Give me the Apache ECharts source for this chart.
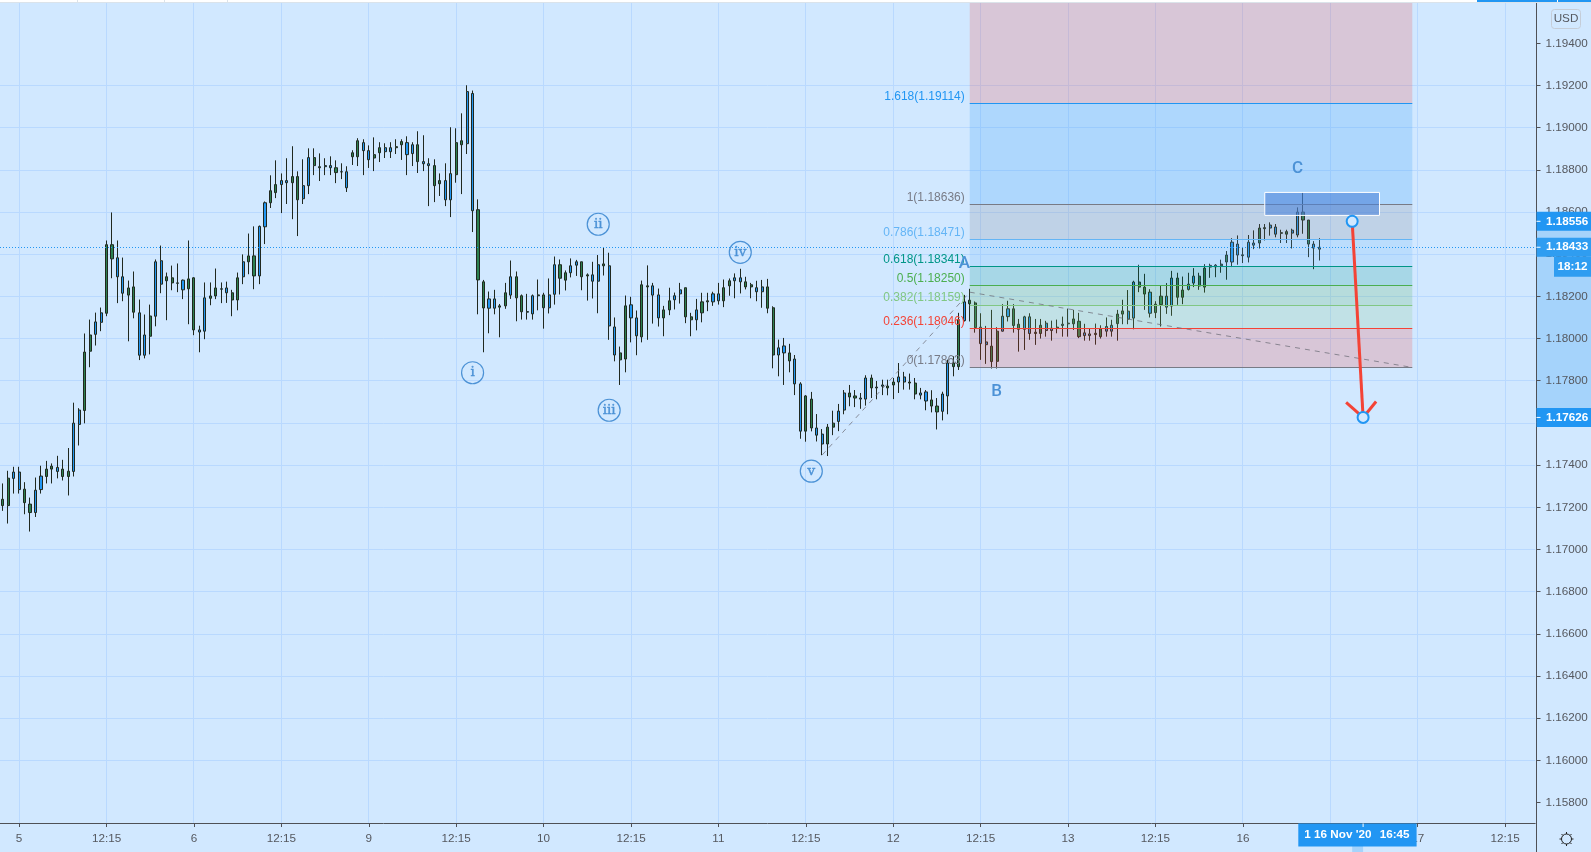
<!DOCTYPE html>
<html>
<head>
<meta charset="utf-8">
<style>html,body{margin:0;padding:0;background:#d1e8ff;overflow:hidden}#c{width:1591px;height:852px}</style>
<script src="https://cdn.jsdelivr.net/npm/echarts@6/dist/echarts.min.js"></script>
</head>
<body>
<div id="c"></div>
<script>
const tickLabels = ['5','12:15','6','12:15','9','12:15','10','12:15','11','12:15','12','12:15','13','12:15','16','12:15','17','12:15'];
const priceTicks = [1.158,1.16,1.162,1.164,1.166,1.168,1.17,1.172,1.174,1.176,1.178,1.18,1.182,1.184,1.186,1.188,1.19,1.192,1.194];

const opens = [
1.17238,1.17208,1.17337,1.17367,1.17286,1.17215,1.17175,1.17284,1.17346,1.17381,
1.17389,1.17381,1.17346,1.17370,1.17593,1.17659,1.17940,1.18020,1.18077,1.18120,
1.18445,1.18383,1.18293,1.18206,1.18245,1.18122,1.17921,1.18011,1.18106,1.18369,
1.18274,1.18288,1.18264,1.18277,1.18236,1.18288,1.18041,1.18035,1.18191,1.18202,
1.18234,1.18240,1.18217,1.18183,1.18293,1.18364,1.18392,1.18297,1.18530,1.18644,
1.18692,1.18730,1.18749,1.18739,1.18768,1.18663,1.18725,1.18858,1.18810,1.18815,
1.18820,1.18810,1.18791,1.18791,1.18881,1.18862,1.18929,1.18891,1.18856,1.18881,
1.18905,1.18886,1.18910,1.18919,1.18929,1.18877,1.18919,1.18839,1.18829,1.18820,
1.18734,1.18749,1.18658,1.18777,1.18938,1.18924,1.19162,1.18611,1.18269,1.18144,
1.18188,1.18149,1.18155,1.18206,1.18293,1.18203,1.18128,1.18117,1.18203,1.18207,
1.18146,1.18210,1.18350,1.18277,1.18312,1.18348,1.18364,1.18302,1.18302,1.18272,
1.18354,1.18345,1.18055,1.17932,1.17903,1.18160,1.18098,1.18008,1.18245,1.18250,
1.18207,1.18098,1.18136,1.18184,1.18212,1.18241,1.18103,1.18089,1.18122,1.18179,
1.18174,1.18212,1.18179,1.18250,1.18274,1.18288,1.18269,1.18255,1.18241,1.18222,
1.18245,1.18146,1.17922,1.17965,1.17932,1.17903,1.17785,1.17561,1.17713,1.17576,
1.17547,1.17500,1.17580,1.17607,1.17661,1.17742,1.17728,1.17718,1.17713,1.17813,
1.17766,1.17780,1.17766,1.17780,1.17794,1.17818,1.17794,1.17789,1.17732,1.17747,
1.17709,1.17680,1.17655,1.17728,1.17884,1.17867,1.18085,1.18182,1.18169,1.18054,
1.17984,1.17964,1.17892,1.18035,1.18104,1.18141,1.18068,1.18044,1.18103,1.18030,
1.18024,1.18073,1.18049,1.18054,1.18062,1.18070,1.18070,1.18082,1.18027,1.18022,
1.18025,1.18009,1.18057,1.18035,1.18071,1.18116,1.18130,1.18097,1.18268,1.18244,
1.18220,1.18123,1.18161,1.18201,1.18154,1.18287,1.18196,1.18233,1.18263,1.18296,
1.18244,1.18339,1.18340,1.18345,1.18396,1.18363,1.18448,1.18397,1.18386,1.18443,
1.18453,1.18526,1.18524,1.18529,1.18502,1.18495,1.18514,1.18491,1.18600,1.18562,
1.18448,1.18424];
const closes = [
1.17208,1.17338,1.17367,1.17284,1.17222,1.17175,1.17281,1.17348,1.17381,1.17395,
1.17370,1.17346,1.17371,1.17599,1.17661,1.17936,1.18017,1.18079,1.18122,1.18445,
1.18378,1.18293,1.18215,1.18240,1.18125,1.17921,1.18017,1.18107,1.18364,1.18258,
1.18293,1.18264,1.18262,1.18231,1.18283,1.18041,1.18031,1.18193,1.18202,1.18240,
1.18236,1.18217,1.18183,1.18288,1.18364,1.18392,1.18297,1.18532,1.18644,1.18701,
1.18730,1.18749,1.18739,1.18768,1.18658,1.18725,1.18858,1.18820,1.18815,1.18820,
1.18810,1.18787,1.18790,1.18715,1.18862,1.18938,1.18891,1.18848,1.18872,1.18905,
1.18886,1.18905,1.18905,1.18934,1.18872,1.18919,1.18839,1.18829,1.18820,1.18725,
1.18749,1.18658,1.18782,1.18929,1.18919,1.19171,1.18606,1.18278,1.18145,1.18188,
1.18144,1.18155,1.18217,1.18293,1.18193,1.18127,1.18125,1.18203,1.18207,1.18146,
1.18207,1.18350,1.18286,1.18312,1.18345,1.18364,1.18293,1.18297,1.18272,1.18350,
1.18345,1.18060,1.17922,1.17899,1.18155,1.18098,1.18013,1.18255,1.18250,1.18206,
1.18098,1.18136,1.18179,1.18203,1.18231,1.18103,1.18089,1.18136,1.18174,1.18174,
1.18212,1.18179,1.18241,1.18274,1.18288,1.18269,1.18245,1.18245,1.18222,1.18245,
1.18144,1.17922,1.17956,1.17932,1.17894,1.17785,1.17561,1.17728,1.17576,1.17542,
1.17500,1.17580,1.17599,1.17656,1.17742,1.17723,1.17718,1.17713,1.17813,1.17766,
1.17770,1.17774,1.17775,1.17794,1.17818,1.17794,1.17789,1.17737,1.17742,1.17704,
1.17680,1.17652,1.17737,1.17884,1.17867,1.18089,1.18174,1.18165,1.18052,1.17976,
1.17971,1.17891,1.18035,1.18106,1.18141,1.18062,1.18044,1.18103,1.18024,1.18024,
1.18063,1.18038,1.18038,1.18049,1.18068,1.18073,1.18093,1.18009,1.18014,1.18014,
1.18019,1.18047,1.18035,1.18063,1.18116,1.18131,1.18092,1.18268,1.18244,1.18211,
1.18120,1.18163,1.18201,1.18149,1.18287,1.18196,1.18230,1.18258,1.18296,1.18249,
1.18334,1.18347,1.18348,1.18353,1.18363,1.18457,1.18396,1.18393,1.18457,1.18453,
1.18524,1.18521,1.18538,1.18495,1.18499,1.18507,1.18500,1.18600,1.18562,1.18448,
1.18429,1.18433];
const lows = [
1.17183,1.17123,1.17265,1.17265,1.17167,1.17085,1.17154,1.17265,1.17313,1.17313,
1.17337,1.17327,1.17256,1.17346,1.17493,1.17598,1.17864,1.17967,1.18035,1.18106,
1.18286,1.18168,1.18177,1.17987,1.18096,1.17898,1.17906,1.17925,1.18058,1.18215,
1.18087,1.18229,1.18220,1.18187,1.18068,1.18016,1.17935,1.17997,1.18158,1.18187,
1.18168,1.18169,1.18106,1.18134,1.18258,1.18305,1.18234,1.18258,1.18448,1.18619,
1.18666,1.18595,1.18638,1.18566,1.18486,1.18638,1.18685,1.18775,1.18747,1.18775,
1.18775,1.18737,1.18756,1.18695,1.18823,1.18818,1.18775,1.18809,1.18794,1.18837,
1.18856,1.18856,1.18875,1.18847,1.18775,1.18818,1.18785,1.18794,1.18628,1.18647,
1.18676,1.18628,1.18576,1.18739,1.18685,1.18875,1.18505,1.18115,1.17935,1.18025,
1.18115,1.18006,1.18141,1.18188,1.18082,1.18090,1.18090,1.18090,1.18134,1.18047,
1.18119,1.18161,1.18209,1.18228,1.18290,1.18297,1.18229,1.18180,1.18190,1.18120,
1.18299,1.17994,1.17892,1.17780,1.17840,1.17982,1.17921,1.17982,1.17994,1.18071,
1.18057,1.18011,1.18111,1.18138,1.18166,1.18073,1.18011,1.18039,1.18077,1.18130,
1.18155,1.18161,1.18149,1.18203,1.18191,1.18214,1.18233,1.18191,1.18177,1.18146,
1.18120,1.17859,1.17821,1.17780,1.17840,1.17732,1.17525,1.17511,1.17560,1.17512,
1.17447,1.17443,1.17542,1.17561,1.17641,1.17679,1.17675,1.17667,1.17682,1.17718,
1.17712,1.17732,1.17731,1.17713,1.17742,1.17758,1.17758,1.17712,1.17712,1.17660,
1.17650,1.17569,1.17612,1.17641,1.17821,1.17851,1.18081,1.18081,1.18028,1.17899,
1.17880,1.17858,1.17858,1.18033,1.18081,1.18028,1.17938,1.17946,1.17994,1.17970,
1.18000,1.18009,1.17990,1.18025,1.18009,1.18009,1.18041,1.18002,1.17990,1.17990,
1.17971,1.18000,1.18009,1.18009,1.17990,1.18068,1.18068,1.18044,1.18220,1.18136,
1.18100,1.18097,1.18057,1.18117,1.18108,1.18160,1.18163,1.18228,1.18244,1.18231,
1.18218,1.18288,1.18291,1.18312,1.18279,1.18339,1.18350,1.18358,1.18361,1.18424,
1.18427,1.18465,1.18488,1.18480,1.18453,1.18453,1.18427,1.18480,1.18497,1.18386,
1.18329,1.18370];
const highs = [
1.17313,1.17373,1.17392,1.17392,1.17319,1.17246,1.17341,1.17397,1.17420,1.17408,
1.17444,1.17425,1.17481,1.17696,1.17670,1.18024,1.18090,1.18123,1.18147,1.18465,
1.18598,1.18465,1.18384,1.18275,1.18318,1.18185,1.18114,1.18161,1.18375,1.18441,
1.18313,1.18346,1.18356,1.18280,1.18465,1.18291,1.18061,1.18266,1.18266,1.18332,
1.18266,1.18270,1.18231,1.18313,1.18399,1.18498,1.18532,1.18536,1.18650,1.18774,
1.18845,1.18783,1.18855,1.18912,1.18793,1.18850,1.18902,1.18902,1.18878,1.18855,
1.18864,1.18845,1.18831,1.18817,1.18893,1.18950,1.18945,1.18916,1.18954,1.18931,
1.18926,1.18931,1.18945,1.18945,1.18959,1.18931,1.18983,1.18964,1.18855,1.18850,
1.18783,1.18831,1.19002,1.18997,1.19068,1.19201,1.19176,1.18660,1.18278,1.18223,
1.18231,1.18164,1.18264,1.18370,1.18318,1.18209,1.18212,1.18209,1.18280,1.18217,
1.18285,1.18389,1.18375,1.18323,1.18380,1.18373,1.18364,1.18309,1.18364,1.18396,
1.18434,1.18407,1.18100,1.17962,1.18204,1.18198,1.18133,1.18275,1.18347,1.18264,
1.18237,1.18155,1.18241,1.18218,1.18264,1.18241,1.18122,1.18188,1.18217,1.18217,
1.18222,1.18264,1.18280,1.18285,1.18309,1.18331,1.18293,1.18264,1.18274,1.18278,
1.18283,1.18153,1.17995,1.18003,1.17975,1.17922,1.17793,1.17732,1.17747,1.17642,
1.17571,1.17595,1.17658,1.17690,1.17756,1.17780,1.17756,1.17742,1.17826,1.17829,
1.17799,1.17805,1.17805,1.17813,1.17884,1.17842,1.17834,1.17813,1.17766,1.17756,
1.17755,1.17718,1.17748,1.17900,1.17916,1.18122,1.18207,1.18236,1.18176,1.18120,
1.18060,1.18136,1.18054,1.18163,1.18179,1.18163,1.18093,1.18108,1.18120,1.18093,
1.18093,1.18084,1.18085,1.18090,1.18104,1.18142,1.18136,1.18122,1.18070,1.18049,
1.18071,1.18063,1.18100,1.18089,1.18136,1.18184,1.18230,1.18274,1.18350,1.18307,
1.18234,1.18177,1.18250,1.18263,1.18321,1.18312,1.18294,1.18312,1.18334,1.18312,
1.18353,1.18355,1.18353,1.18374,1.18415,1.18476,1.18489,1.18434,1.18491,1.18513,
1.18543,1.18543,1.18551,1.18543,1.18516,1.18516,1.18521,1.18622,1.18693,1.18562,
1.18462,1.18476];

const fibRatios = ['1.618','1','0.786','0.618','0.5','0.382','0.236','0'];
const fibPrices = [1.19114,1.18636,1.18471,1.18341,1.18250,1.18159,1.18046,1.17863];
const fibColors = ['#2196f3','#787b86','#64b5f6','#009688','#4caf50','#81c784','#f44336','#787b86'];
const fibBars = [177,258];
const trendBars = [150,177,258];
const trendPrices = [1.17448,1.1822,1.17863];
const waveLabels = ['i','ii','iii','iv','v'];
const waveBars = [86,109,111,135,148];
const wavePrices = [1.17838,1.18542,1.1766,1.18409,1.17371];
const abcLabels = ['A','B','C'];
const abcBars = [176,181.9,237];
const abcPrices = [1.18355,1.1775,1.18806];
const boxBars = [231,252];
const boxPrices = [1.18693,1.18584];
const arrowBars = [247,249];
const arrowPrices = [1.18556,1.17626];
const lastPrice = 1.18433;
const countdown = '18:12';
const dateTag = "1 16 Nov '20";
const timeTag = '16:45';

const AXIS_MIN = 1.156, AXIS_MAX = 1.196;      // multiples of the 0.002 interval
const PANE_BOTTOM = 1.15703, PANE_TOP = 1.19591; // what the pane shows
const BG = '#d1e8ff', GRID = '#b9d9ff', AXIS = '#4f5156', TXT = '#55585f';
const FONT = '"Liberation Sans",Arial,sans-serif';
const BLUE = '#2196f3', WAVE = '#4c92d6';

const BAR_COUNT = 281;
const categories = new Array(BAR_COUNT).fill('');
tickLabels.forEach((t,k)=>{categories[3+16*k]=t;});
const tickBars = tickLabels.map((t,k)=>3+16*k);
const isTick = (i)=>categories[i]!=='';
const pitch = 5.47;
const upColor = (i)=> (Math.floor(1.8+pitch*i)%2) ? '#2c8050' : '#2196f3';
const WICK = '#20281f';
const candles = opens.map((o,i)=>({
  value:[o,closes[i],lows[i],highs[i]],
  itemStyle:{color:upColor(i),color0:'#f4764a',borderColor:WICK,borderColor0:WICK,borderWidth:1}
}));

const zoneColors = ['#f44336','#2196f3','#787b86','#64b5f6','#009688','#4caf50','#81c784','#f44336'];
const fibZones = fibPrices.map((p,i)=>[i===0?PANE_TOP:fibPrices[i-1],p]);

function hexA(h,a){const n=parseInt(h.slice(1),16);return `rgba(${n>>16},${(n>>8)&255},${n&255},${a})`;}

const chart = echarts.init(document.getElementById('c'),null,{renderer:'canvas',width:1591,height:852});
const rightEdge = 1591;
const Y_OFFSET = 1.3;
const grid = {left:-1.9,top:1.12,width:1537.1,height:843.6,containLabel:false};
const snap = (v)=>Math.floor(v)+.5;

const series = [
 {type:'custom',name:'axisStrips',z:-1,silent:true,data:[[arrowBars[0],arrowPrices[0]]],encode:{x:0,y:1},
  renderItem(p,api){
    const cs=p.coordSys, ax=cs.x+cs.width+Y_OFFSET;
    const y0=api.coord([0,arrowPrices[0]])[1], y1=api.coord([0,arrowPrices[1]])[1];
    const x0=api.coord([arrowBars[0],PANE_BOTTOM])[0], x1=api.coord([arrowBars[1],PANE_BOTTOM])[0];
    const base=api.coord([0,PANE_BOTTOM])[1];
    return {type:'group',children:[
      {type:'rect',shape:{x:ax,y:y0,width:rightEdge-ax,height:y1-y0},style:{fill:'#a5d3fb'}},
      {type:'rect',shape:{x:x0,y:base,width:x1-x0,height:29},style:{fill:'#a5d3fb'}},
      {type:'line',shape:{x1:snap(ax),y1:cs.y+cs.height-1,x2:snap(ax),y2:852},style:{stroke:AXIS,lineWidth:1}}
    ]};
  }},
 {type:'custom',name:'timeGrid',z:1,silent:true,data:tickBars.map(b=>[b,PANE_TOP]),encode:{x:0,y:1},
  renderItem(p,api){
    const a=api.coord([api.value(0),PANE_TOP]), b=api.coord([api.value(0),PANE_BOTTOM]);
    const x=snap(a[0]);
    return {type:'line',shape:{x1:x,y1:a[1],x2:x,y2:b[1]},style:{stroke:GRID,lineWidth:1}};
  }},
 {type:'candlestick',z:2,barWidth:2.6,data:candles,large:false,progressive:0,silent:true},
 {type:'custom',name:'fibZones',z:3,silent:true,data:fibZones.map(z=>[fibBars[0],z[0],z[1]]),
  encode:{x:0,y:1},
  renderItem(p,api){
    const a=api.coord([fibBars[0],api.value(1)]), b=api.coord([fibBars[1],api.value(2)]);
    const i=p.dataIndex, lc=fibColors[i];
    return {type:'group',children:[
      {type:'rect',shape:{x:a[0],y:a[1],width:b[0]-a[0],height:b[1]-a[1]},style:{fill:hexA(zoneColors[i],0.2)}},
      {type:'line',shape:{x1:a[0],y1:snap(b[1]),x2:b[0],y2:snap(b[1])},style:{stroke:lc,lineWidth:1}}
    ]};
  }},
 {type:'custom',name:'trend',z:4,silent:true,data:trendBars.map((b,i)=>[b,trendPrices[i]]),encode:{x:0,y:1},
  renderItem(p,api){
    const i=p.dataIndex;
    if(i===0) return {type:'group',children:[]};
    const a=api.coord([trendBars[i-1],trendPrices[i-1]]), b=api.coord([trendBars[i],trendPrices[i]]);
    return {type:'line',shape:{x1:a[0],y1:a[1],x2:b[0],y2:b[1]},style:{stroke:'rgba(110,110,120,.75)',lineWidth:1,lineDash:[5,5]}};
  }},
 {type:'custom',name:'fibLabels',z:4,silent:true,data:fibPrices.map(v=>[fibBars[0],v]),encode:{x:0,y:1},
  renderItem(p,api){
    const c=api.coord([api.value(0),api.value(1)]), i=p.dataIndex;
    return {type:'text',style:{x:c[0]-5,y:c[1]-7,text:fibRatios[i]+'('+fibPrices[i].toFixed(5)+')',fill:fibColors[i],font:'12px '+FONT,textAlign:'right',textVerticalAlign:'middle'}};
  }},
 {type:'custom',name:'waves',z:4,silent:true,data:waveBars.map((b,i)=>[b,wavePrices[i]]),encode:{x:0,y:1},
  renderItem(p,api){
    const c=api.coord([api.value(0),api.value(1)]);
    return {type:'group',children:[
      {type:'circle',shape:{cx:c[0],cy:c[1],r:11},style:{fill:'none',stroke:WAVE,lineWidth:1.2}},
      {type:'text',style:{x:c[0],y:c[1],text:waveLabels[p.dataIndex],fill:WAVE,stroke:WAVE,lineWidth:0.4,font:'13.5px "DejaVu Serif",serif',textAlign:'center',textVerticalAlign:'middle'}}
    ]};
  }},
 {type:'custom',name:'abc',z:4,silent:true,data:abcBars.map((b,i)=>[Math.round(b),abcPrices[i]]),encode:{x:0,y:1},
  renderItem(p,api){
    const i=p.dataIndex;
    const c=api.coord([Math.round(abcBars[i]),abcPrices[i]]);
    const gx=c[0]+(abcBars[i]-Math.round(abcBars[i]))*pitch;
    return {type:'text',style:{x:gx,y:c[1],text:abcLabels[i],fill:WAVE,font:'500 17px Roboto,sans-serif',textAlign:'center',textVerticalAlign:'middle'}};
  }},
 {type:'custom',name:'box',z:4,silent:true,data:[[boxBars[0],boxPrices[0]]],encode:{x:0,y:1},
  renderItem(p,api){
    const a=api.coord([boxBars[0],boxPrices[0]]), b=api.coord([boxBars[1],boxPrices[1]]);
    return {type:'rect',shape:{x:a[0],y:a[1],width:b[0]-a[0],height:b[1]-a[1]},style:{fill:'rgba(77,132,217,.6)',stroke:'#fff',lineWidth:1}};
  }},
 {type:'custom',name:'lastLine',z:4,silent:true,data:[[0,lastPrice]],encode:{x:0,y:1},
  renderItem(p,api){
    const cs=p.coordSys, y=snap(api.coord([0,lastPrice])[1]);
    return {type:'line',shape:{x1:cs.x,y1:y,x2:cs.x+cs.width+Y_OFFSET,y2:y},style:{stroke:BLUE,lineWidth:1,lineDash:[1,2]}};
  }},
 {type:'custom',name:'arrow',z:5,silent:true,data:[[arrowBars[0],arrowPrices[0]]],encode:{x:0,y:1},
  renderItem(p,api){
    const a=api.coord([arrowBars[0],arrowPrices[0]]), b=api.coord([arrowBars[1],arrowPrices[1]]);
    const red='#f44336';
    return {type:'group',children:[
      {type:'line',shape:{x1:a[0],y1:a[1],x2:b[0],y2:b[1]},style:{stroke:red,lineWidth:3}},
      {type:'line',shape:{x1:b[0],y1:b[1],x2:b[0]-17,y2:b[1]-15},style:{stroke:red,lineWidth:3}},
      {type:'line',shape:{x1:b[0],y1:b[1],x2:b[0]+13,y2:b[1]-16},style:{stroke:red,lineWidth:3}},
      {type:'circle',shape:{cx:a[0],cy:a[1],r:5.5},style:{fill:BG,stroke:BLUE,lineWidth:2}},
      {type:'circle',shape:{cx:b[0],cy:b[1],r:5.5},style:{fill:BG,stroke:BLUE,lineWidth:2}}
    ]};
  }},
 {type:'custom',name:'priceTags',z:6,silent:true,data:[arrowPrices[0],lastPrice,arrowPrices[1]].map(v=>[0,v]),encode:{x:0,y:1},
  renderItem(p,api){
    const cs=p.coordSys, v=api.value(1), y=api.coord([0,v])[1], ax=cs.x+cs.width+Y_OFFSET;
    const fill=(v===lastPrice)?'#2f9df1':BLUE;
    const kids=[
      {type:'rect',shape:{x:ax,y:y-9.5,width:rightEdge-ax,height:19},style:{fill}},
      {type:'line',shape:{x1:ax,y1:y,x2:ax+4,y2:y},style:{stroke:'#fff',lineWidth:1}},
      {type:'text',style:{x:ax+9.5,y:y,text:v.toFixed(5),fill:'#fff',font:'bold 11.7px '+FONT,textAlign:'left',textVerticalAlign:'middle'}}
    ];
    if(v===lastPrice){
      kids.push({type:'rect',shape:{x:1554,y:y+9.5,width:rightEdge-1554,height:20},style:{fill}});
      kids.push({type:'text',style:{x:1572.5,y:y+19.5,text:countdown,fill:'#fff',font:'bold 11.7px '+FONT,textAlign:'center',textVerticalAlign:'middle'}});
    }
    return {type:'group',children:kids};
  }},
 {type:'custom',name:'dateTag',z:6,silent:true,data:[[arrowBars[1],PANE_BOTTOM]],encode:{x:0,y:1},
  renderItem(p,api){
    const c=api.coord([arrowBars[1],PANE_BOTTOM]), top=c[1]+0.5;
    const l=c[0]-64.8, r=c[0]+53.5;
    return {type:'group',children:[
      {type:'rect',shape:{x:l,y:top,width:r-l,height:23},style:{fill:BLUE}},
      {type:'line',shape:{x1:c[0],y1:top,x2:c[0],y2:top+3.5},style:{stroke:'#fff',lineWidth:1}},
      {type:'text',style:{x:l+6,y:top+11.5,text:dateTag,fill:'#fff',font:'bold 11.7px '+FONT,textAlign:'left',textVerticalAlign:'middle'}},
      {type:'text',style:{x:r-7,y:top+11.5,text:timeTag,fill:'#fff',font:'bold 11.7px '+FONT,textAlign:'right',textVerticalAlign:'middle'}}
    ]};
  }}
];

const gearSpokes = [[1566.5,832,1566.5,834],[1566.5,844,1566.5,846],[1559.5,839,1561.5,839],[1571.5,839,1573.5,839],[1561.5,834,1563,835.5],[1570,842.5,1571.5,844],[1561.5,844,1563,842.5],[1570,835.5,1571.5,834]];

chart.setOption({
  animation:false,
  backgroundColor:BG,
  grid,
  xAxis:{type:'category',data:categories,boundaryGap:true,offset:-21.7,
    axisLine:{show:true,onZero:false,lineStyle:{color:AXIS,width:1}},
    axisTick:{show:true,length:4,alignWithLabel:true,interval:(i)=>isTick(i),lineStyle:{color:AXIS}},
    axisLabel:{show:true,interval:(i)=>isTick(i),color:TXT,fontFamily:'Liberation Sans',fontSize:11.7,margin:10,hideOverlap:false},
    splitLine:{show:false}
  },
  yAxis:{type:'value',position:'right',offset:Y_OFFSET,min:AXIS_MIN,max:AXIS_MAX,interval:0.002,
    axisLine:{show:true,onZero:false,lineStyle:{color:AXIS,width:1}},
    axisTick:{show:true,length:4,lineStyle:{color:AXIS},customValues:priceTicks},
    axisLabel:{color:TXT,fontFamily:'Liberation Sans',fontSize:11.7,margin:9,customValues:priceTicks,
      formatter:(v)=>v.toFixed(5)},
    splitLine:{show:true,showMinLine:false,showMaxLine:false,lineStyle:{color:GRID,width:1}}
  },
  graphic:[
    {type:'rect',z:100,shape:{x:0,y:0,width:1477,height:2},style:{fill:'#fff'}},
    {type:'rect',z:100,shape:{x:0,y:2,width:1591,height:1},style:{fill:'#dbe3ea'}},
    {type:'rect',z:101,shape:{x:1477,y:0,width:114,height:2},style:{fill:BLUE}},
    {type:'rect',z:102,shape:{x:1557,y:0,width:1,height:2},style:{fill:'#fff'}},
    {type:'rect',z:102,shape:{x:77,y:0,width:1,height:2},style:{fill:'#dbe3ea'}},
    {type:'rect',z:102,shape:{x:164,y:0,width:1,height:2},style:{fill:'#dbe3ea'}},
    {type:'rect',z:102,shape:{x:227,y:0,width:1,height:2},style:{fill:'#dbe3ea'}},
    {type:'rect',z:100,shape:{x:1551.5,y:9.5,width:29,height:19,r:3},style:{fill:BG,stroke:'#c5cdd8',lineWidth:1}},
    {type:'text',z:101,style:{x:1566,y:19,text:'USD',fill:TXT,font:'11.7px '+FONT,textAlign:'center',textVerticalAlign:'middle'}},
    {type:'circle',z:100,shape:{cx:1566.5,cy:839,r:5},style:{fill:'none',stroke:'#222',lineWidth:1}}
  ].concat(gearSpokes.map(s=>({type:'line',z:100,shape:{x1:s[0],y1:s[1],x2:s[2],y2:s[3]},style:{stroke:'#222',lineWidth:1}}))),
  series
});
</script>
</body>
</html>
